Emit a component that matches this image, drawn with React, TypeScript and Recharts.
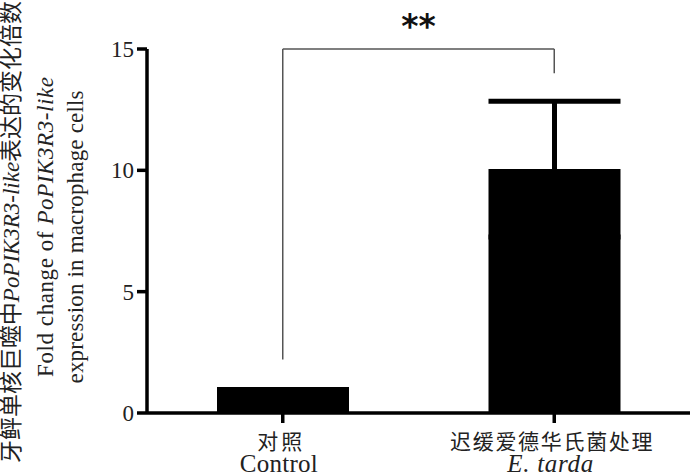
import { BarChart, Bar, XAxis, YAxis, ErrorBar, ReferenceLine, Label } from "recharts";

// ---- data ----
const categories = ["对照", "迟缓爱德华氏菌处理"];
const englishLabels = ["Control", "E. tarda"];
const foldChange = [1.07, 10.05];
const errorValues = [0, 2.8];
const yTicks = [0, 5, 10, 15];

// significance bracket (in data units)
const bracketLeftBottom = 2.2;
const bracketTop = 15;
const bracketRightBottom = 14;
const significance = "**";

const data = categories.map((name, i) => ({
    name,
    en: englishLabels[i],
    value: foldChange[i],
    err: errorValues[i],
}));

const SERIF = "'Liberation Serif', 'Times New Roman', serif";
const CJK = "'Liberation Serif', 'Noto Sans CJK SC', serif";

function CategoryTick(props: any) {
    const { x, y, payload, index } = props;
    const en = englishLabels[index] ?? "";
    const cnLen = payload.value.length * 22.5;
    return (
        <g>
            <text
                x={x - 3}
                y={y + 17}
                textAnchor="middle"
                dominantBaseline="central"
                fontFamily={CJK}
                fontSize={21}
                fill="#222"
                textLength={cnLen}
                lengthAdjust="spacing"
            >
                {payload.value}
            </text>
            <text
                x={x - 4}
                y={y + 47}
                textAnchor="middle"
                fontFamily={SERIF}
                fontStyle={index === 1 ? "italic" : "normal"}
                fontSize={25}
                fill="#222"
                textLength={index === 1 ? 86 : 78}
                lengthAdjust="spacing"
            >
                {en}
            </text>
        </g>
    );
}

function YTitle() {
    return (
        <g>
            <text
                transform="translate(11, 232) rotate(-90)"
                textAnchor="middle"
                dominantBaseline="central"
                fontFamily={CJK}
                fontSize={23}
                fill="#222"
                textLength={462}
                lengthAdjust="spacing"
            >
                牙鲆单核巨噬中<tspan fontStyle="italic" fontFamily={SERIF}>PoPIK3R3-like</tspan>表达的变化倍数
            </text>
            <text
                transform="translate(53, 227) rotate(-90)"
                textAnchor="middle"
                fontFamily={SERIF}
                fontSize={23}
                fill="#222"
                textLength={300}
                lengthAdjust="spacing"
            >
                Fold change of <tspan fontStyle="italic">PoPIK3R3-like</tspan>
            </text>
            <text
                transform="translate(83, 237) rotate(-90)"
                textAnchor="middle"
                fontFamily={SERIF}
                fontSize={23}
                fill="#222"
                textLength={293}
                lengthAdjust="spacing"
            >
                expression in macrophage cells
            </text>
        </g>
    );
}

export default function App() {
    return (
        <div style={{ position: "absolute", left: 0, top: 0, background: "#fff" }}>
            <BarChart
                width={700}
                height={475}
                data={data}
                margin={{ top: 49, right: 10, bottom: 0, left: 0 }}
                barSize={132}
            >
                <XAxis
                    dataKey="name"
                    height={62}
                    axisLine={{ stroke: "#000", strokeWidth: 3.5 }}
                    tickLine={{ stroke: "#000", strokeWidth: 3.5 }}
                    tickSize={10}
                    tick={<CategoryTick />}
                    interval={0}
                />
                <YAxis
                    width={147}
                    domain={[0, 15]}
                    ticks={yTicks}
                    interval={0}
                    axisLine={{ stroke: "#000", strokeWidth: 3.5 }}
                    tickLine={{ stroke: "#000", strokeWidth: 3.5 }}
                    tickSize={10}
                    tickMargin={3}
                    tick={{ fill: "#222", fontSize: 23, fontFamily: SERIF }}
                >
                    <Label content={<YTitle />} />
                </YAxis>
                <Bar dataKey="value" fill="#000" isAnimationActive={false}>
                    <ErrorBar dataKey="err" width={66} strokeWidth={5} stroke="#000" direction="y" />
                </Bar>
                <ReferenceLine
                    segment={[
                        { x: categories[0], y: bracketLeftBottom },
                        { x: categories[0], y: bracketTop },
                    ]}
                    stroke="#555"
                    strokeWidth={1.5}
                    ifOverflow="visible"
                />
                <ReferenceLine
                    segment={[
                        { x: categories[0], y: bracketTop },
                        { x: categories[1], y: bracketTop },
                    ]}
                    stroke="#555"
                    strokeWidth={1.5}
                    ifOverflow="visible"
                    label={{
                        value: significance,
                        position: "top",
                        offset: 11,
                        fill: "#111",
                        fontSize: 33,
                        fontWeight: "bold",
                        fontFamily: "'DejaVu Sans', sans-serif",
                    }}
                />
                <ReferenceLine
                    segment={[
                        { x: categories[1], y: bracketTop },
                        { x: categories[1], y: bracketRightBottom },
                    ]}
                    stroke="#555"
                    strokeWidth={1.5}
                    ifOverflow="visible"
                />
            </BarChart>
        </div>
    );
}
